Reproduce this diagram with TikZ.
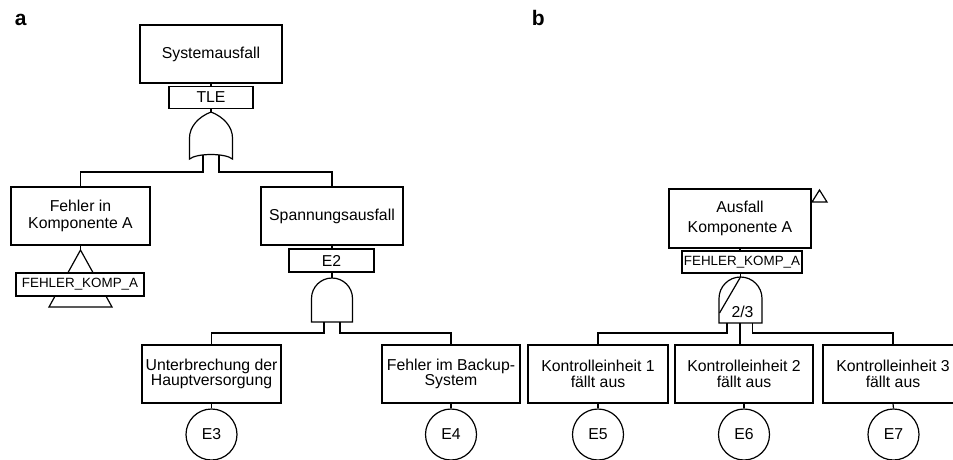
\documentclass[tikz,border=0pt]{standalone}
\usepackage{fontspec}
\setmainfont{Liberation Sans}
\begin{document}
\begin{tikzpicture}[x=1pt,y=-1pt,
  line width=1.2pt, line join=miter,
  evbox/.style={draw, fill=white, align=center, inner sep=0pt,
    font=\fontsize{15.8}{16.5}\selectfont},
  tagbox/.style={draw, fill=white, inner sep=0pt, minimum height=22pt,
    font=\fontsize{15.8}{16}\selectfont},
  smalltag/.style={draw, fill=white, inner sep=0pt, minimum height=23pt,
    font=\fontsize{13.4}{14}\selectfont},
  basic/.style={draw, circle, inner sep=0pt, minimum size=51pt,
    font=\fontsize{15.8}{16}\selectfont},
  panel/.style={anchor=base west, font=\fontsize{21}{21}\selectfont\bfseries}]
\useasboundingbox (0,0) rectangle (953,459);

% panel letters
\node[panel] (la) at (11,25) {a};
\node[panel] (lb) at (528,25) {b};

% ---------------- panel a ----------------
\node[evbox, minimum width=142pt, minimum height=58pt] (sys) at (211,54) {Systemausfall};
\node[tagbox, minimum width=84pt] (tle) at (211,97.5) {TLE};
\draw (sys.south) -- (tle.north);

% OR gate below TLE
\coordinate (orT) at (211,112);
\draw (orT) .. controls (198,117) and (189.5,127) .. (189.5,138) -- (189.5,159)
  .. controls (197,153) and (225,153) .. (232.5,159) -- (232.5,138)
  .. controls (232.5,127) and (224,117) .. (orT) -- cycle;
\draw (tle.south) -- (orT);
\coordinate (orL) at (203,155);
\coordinate (orR) at (219,155);

\node[evbox, minimum width=139pt, minimum height=58pt] (fka) at (80.5,216) {Fehler in\\Komponente A};
\node[evbox, minimum width=142pt, minimum height=58pt] (span) at (332,216) {Spannungsausfall};
\draw (orL) -- (203,172) -| (fka.north);
\draw (orR) -- (219,172) -| (span.north);

% transfer triangle with its label
\coordinate (trA) at (80.5,250);
\draw (fka.south) -- (trA);
\draw (trA) -- (112,307) -- (49,307) -- cycle;
\node[smalltag, minimum width=128pt] (fkaTag) at (80,284.5) {FEHLER\_KOMP\_A};

% AND gate below E2
\node[tagbox, minimum width=85pt, minimum height=23pt] (e2) at (331.5,260.5) {E2};
\draw (span.south) -- (span.south |- e2.north);
\coordinate (andT) at (332,278);
\draw (311.5,322) -- (311.5,298.5) arc[start angle=180, end angle=360, radius=20.5]
  -- (352.5,322) -- cycle;
\draw (e2.south -| andT) -- (andT);
\coordinate (andL) at (324,322);
\coordinate (andR) at (340,322);

\node[evbox, minimum width=139pt, minimum height=58pt, font=\fontsize{15.8}{14.5}\selectfont] (unt) at (211.5,374) {Unterbrechung der\\Hauptversorgung};
\node[evbox, minimum width=138pt, minimum height=58pt, font=\fontsize{15.8}{15.5}\selectfont] (bak) at (451,374) {Fehler im Backup-\\System};
\draw (andL) -- (324,333) -| (unt.north);
\draw (andR) -- (340,333) -| (bak.north);

\node[basic] (e3) at (211.5,434.5) {E3};
\node[basic] (e4) at (451,434.5) {E4};
\draw (unt.south) -- (e3.north);
\draw (bak.south) -- (e4.north);

% ---------------- panel b ----------------
\node[evbox, minimum width=142pt, minimum height=59pt, font=\fontsize{15.8}{19.5}\selectfont] (ausf) at (740,218.5) {Ausfall\\Komponente A};
\draw (812,202) -- (819.5,190) -- (827,202) -- cycle;
\node[smalltag, minimum width=120pt, minimum height=22pt] (fkb) at (742,262) {FEHLER\_KOMP\_A};
\draw (ausf.south) -- (ausf.south |- fkb.north);

% 2-out-of-3 voting gate
\coordinate (vT) at (740.5,277);
\draw (719,323) -- (719,298.5) arc[start angle=180, end angle=360, radius=21.5]
  -- (762,323) -- cycle;
\draw (fkb.south -| vT) -- (vT);
\draw (vT) -- (719.5,313);
\node[font=\fontsize{15.8}{16}\selectfont, inner sep=0pt] (vote) at (742.5,312) {2/3};
\coordinate (vL) at (727,323);
\coordinate (vM) at (740,323);
\coordinate (vR) at (752.5,323);

\node[evbox, minimum width=140pt, minimum height=58pt] (k1) at (598,374) {Kontrolleinheit 1\\fällt aus};
\node[evbox, minimum width=138pt, minimum height=58pt] (k2) at (744,374) {Kontrolleinheit 2\\fällt aus};
\node[evbox, minimum width=140pt, minimum height=58pt] (k3) at (893,374) {Kontrolleinheit 3\\fällt aus};
\draw (vL) -- (727,333) -| (k1.north);
\draw (vM) -- (vM |- k2.north);
\draw (vR) -- (752.5,333) -| (k3.north);

\node[basic] (e5) at (598,434.5) {E5};
\node[basic] (e6) at (744,434.5) {E6};
\node[basic] (e7) at (893.5,434.5) {E7};
\draw (k1.south) -- (e5.north);
\draw (k2.south) -- (e6.north);
\draw (k3.south) -- (e7.north);
\end{tikzpicture}
\end{document}
